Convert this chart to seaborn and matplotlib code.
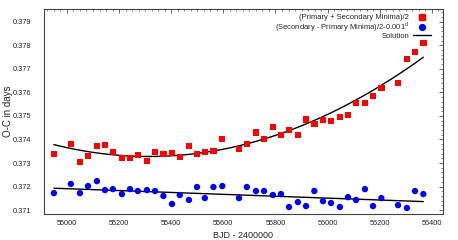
import numpy as np
import pandas as pd
import seaborn as sns
import matplotlib.pyplot as plt
from matplotlib.ticker import MultipleLocator, AutoMinorLocator
from matplotlib.lines import Line2D

# BJD - 2400000 of each minimum pair
bjd = [54950, 55015, 55050, 55081, 55115, 55146, 55176, 55211, 55242, 55272,
       55307, 55338, 55370, 55403, 55433, 55468, 55499, 55529, 55562, 55596,
       55660, 55690, 55725, 55756, 55790, 55821, 55852, 55886, 55917, 55949,
       55982, 56013, 56047, 56078, 56109, 56143, 56174, 56206, 56270, 56304,
       56335, 56367]

# (Primary + Secondary Minima)/2
oc_sum = [0.37338, 0.37381, 0.37304, 0.37330, 0.37372, 0.37377, 0.37347, 0.37321,
          0.37321, 0.37334, 0.37309, 0.37347, 0.37338, 0.37343, 0.37326, 0.37372,
          0.37338, 0.37347, 0.37351, 0.37402, 0.37360, 0.37381, 0.37430, 0.37402,
          0.37453, 0.37419, 0.37440, 0.37419, 0.37485, 0.37466, 0.37483, 0.37479,
          0.37496, 0.37504, 0.37555, 0.37555, 0.37585, 0.37619, 0.37640, 0.37743,
          0.37772, 0.37811]

# (Secondary - Primary Minima)/2 - 0.001 d
oc_diff = [0.37172, 0.37211, 0.37172, 0.37202, 0.37223, 0.37185, 0.37189, 0.37168,
           0.37189, 0.37181, 0.37185, 0.37181, 0.37160, 0.37126, 0.37164, 0.37143,
           0.37198, 0.37151, 0.37198, 0.37202, 0.37151, 0.37198, 0.37181, 0.37181,
           0.37164, 0.37168, 0.37113, 0.37134, 0.37117, 0.37181, 0.37138, 0.37130,
           0.37113, 0.37155, 0.37143, 0.37189, 0.37117, 0.37151, 0.37121, 0.37109,
           0.37181, 0.37168]

lab_sum = '(Primary + Secondary Minima)/2'
lab_diff = '(Secondary - Primary Minima)/2-0.001$^{\\mathregular{d}}$'

df = pd.DataFrame({
    'bjd': bjd * 2,
    'oc': oc_sum + oc_diff,
    'series': [lab_sum] * len(bjd) + [lab_diff] * len(bjd),
})

sns.set_theme(style='white')
plt.rcParams['font.family'] = ['Liberation Sans', 'DejaVu Sans']
plt.rcParams['mathtext.fontset'] = 'custom'
plt.rcParams['mathtext.rm'] = 'Liberation Sans'

fig = plt.figure(figsize=(4.58, 2.40), dpi=100)
ax = fig.add_axes([0.096, 0.108, 0.871, 0.855])

sns.scatterplot(data=df, x='bjd', y='oc', hue='series', style='series',
                palette={lab_sum: '#ff0000', lab_diff: '#0000ff'},
                markers={lab_sum: 's', lab_diff: 'o'},
                s=21, linewidth=0, legend=False, ax=ax, zorder=3)

# fitted solutions
sns.regplot(x=np.array(bjd), y=np.array(oc_sum), order=2, scatter=False, ci=None,
            line_kws={'color': 'black', 'lw': 1.0}, ax=ax)
sns.regplot(x=np.array(bjd), y=np.array(oc_diff), order=1, scatter=False, ci=None,
            line_kws={'color': 'black', 'lw': 1.0}, ax=ax)

ax.set_xlim(54912, 56442)
ax.set_ylim(0.37083, 0.37955)
ax.xaxis.set_major_locator(MultipleLocator(200))
ax.xaxis.set_minor_locator(AutoMinorLocator(8))
ax.yaxis.set_major_locator(MultipleLocator(0.001))
ax.yaxis.set_minor_locator(AutoMinorLocator(5))
ax.yaxis.set_major_formatter(plt.FormatStrFormatter('%.3f'))

ax.tick_params(which='both', direction='in', top=True, right=True,
               color='#555555', labelsize=5.3, labelcolor='#222222')
ax.tick_params(which='major', length=3, width=0.6)
ax.tick_params(which='minor', length=1.5, width=0.5)
ax.tick_params(axis='y', pad=9)
ax.tick_params(axis='x', pad=4)
for sp in ax.spines.values():
    sp.set_color('#444444')
    sp.set_linewidth(0.8)

ax.set_xlabel('BJD - 2400000', fontsize=6.5, labelpad=3)
ax.set_ylabel('O-C in days', fontsize=7)
ax.yaxis.set_label_coords(-0.077, 0.5)

handles = [
    Line2D([], [], ls='none', marker='s', color='#ff0000', markersize=4.2),
    Line2D([], [], ls='none', marker='o', color='#0000ff', markersize=4.2),
    Line2D([], [], color='black', lw=1.0),
]
ax.legend(handles, [lab_sum, lab_diff, 'Solution'], loc='upper right',
          markerfirst=False, frameon=False, fontsize=5.5, handlelength=2.4,
          handletextpad=0.5, labelspacing=-0.2, borderaxespad=0.2,
          bbox_to_anchor=(0.982, 0.997))

fig.savefig('out.png', dpi=100)
